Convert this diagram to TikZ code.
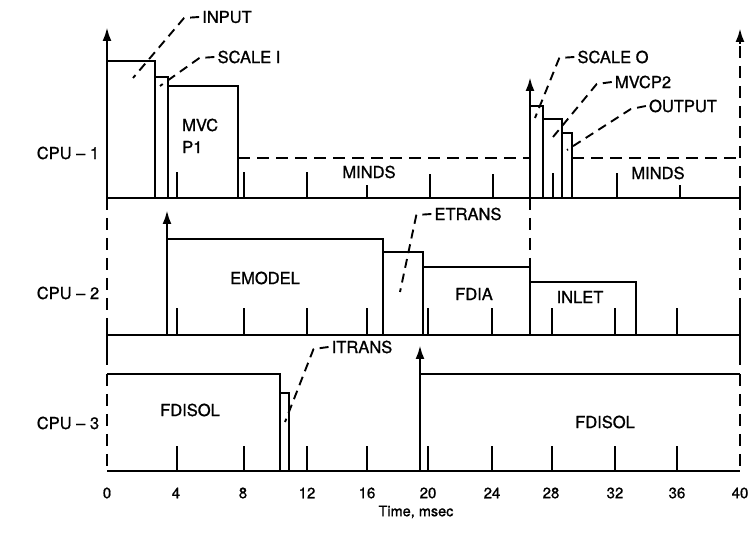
\documentclass[tikz,border=0pt]{standalone}
\usepackage{fontspec}
\setmainfont{TeX Gyre Heros}[BoldFont=TeX Gyre Heros, BoldFeatures={FakeBold=1.0}]
\usetikzlibrary{arrows.meta}
\begin{document}
\begin{tikzpicture}[x=1pt,y=-1pt,
  box/.style={line width=2.8pt, line join=miter},
  base/.style={line width=2.4pt},
  tick/.style={line width=2pt},
  dsh/.style={line width=2.3pt, dash pattern=on 12pt off 7pt},
  side/.style={line width=2.2pt, dash pattern=on 12pt off 8pt},
  lead/.style={line width=1.9pt, dash pattern=on 9pt off 6pt, line join=round},
  up/.style={line width=2.6pt, -{Latex[length=14pt,width=9pt]}},
  lbl/.style={font=\fontsize{16.5}{18}\selectfont\bfseries, inner sep=0pt},
  num/.style={font=\fontsize{15}{17}\selectfont\bfseries, inner sep=0pt},
]
\useasboundingbox (0,0) rectangle (756,534);

% ---------- CPU-1 ----------
\draw[base] (107,198) -- (740,198);
\draw[box] (107,198) -- (107,61) -- (155,61) -- (155,198);
\draw[box] (155,77) -- (168,77) -- (168,198);
\draw[box] (168,86) -- (238,86) -- (238,198);
\draw[up] (107,61) -- (107,27);
\draw[dsh] (238,158) -- (530,158);
\draw[box] (530,198) -- (530,106) -- (543,106) -- (543,198);
\draw[box] (543,119) -- (562,119) -- (562,198);
\draw[box] (562,133) -- (572,133) -- (572,198);
\draw[up] (530,106) -- (530,77);
\draw[dsh] (572,158) -- (740,158);
\draw[side] (740,198) -- (740,42);
\draw[up] (740,44) -- (740,28);
\foreach \x/\t in {177/172,244/172,307/172,367/185,430/174,493/174,553/173,617/173,680/185}
  \draw[tick] (\x,198) -- (\x,\t);

\node[lbl, anchor=west] (mvc) at (182,125) {MVC};
\node[lbl, anchor=west] (p1) at (182,147) {P1};
\node[lbl] (minds1) at (369,172) {MINDS};
\node[lbl] (minds2) at (658,173) {MINDS};

\node[lbl] (input) at (227,17) {INPUT};
\node[lbl] (scalei) at (249,57) {SCALE I};
\node[lbl] (scaleo) at (613,57) {SCALE O};
\node[lbl] (mvcp2) at (643,82) {MVCP2};
\node[lbl] (output) at (683,106) {OUTPUT};

\coordinate (inputE) at (133,78);
\coordinate (scaleiE) at (160,86);
\coordinate (scaleoE) at (535,118);
\coordinate (mvcp2E) at (553,137);
\coordinate (outputE) at (567,150);
\draw[lead] ([xshift=-3pt]input.west) -- ++(-15,1) -- (inputE);
\draw[lead] ([xshift=-3pt]scalei.west) -- ++(-15,1) -- (scaleiE);
\draw[lead] ([xshift=-3pt]scaleo.west) -- ++(-15,1) -- (scaleoE);
\draw[lead] ([xshift=-3pt]mvcp2.west) -- ++(-15,2) -- (mvcp2E);
\draw[lead] ([xshift=-3pt]output.west) -- ++(-15,3) -- (outputE);

% ---------- CPU-2 ----------
\draw[side] (107,198) -- (107,322);
\draw[base] (107,320) -- (107,365);
\draw[side] (740,198) -- (740,300);
\draw[base] (740,300) -- (740,365);
\draw[base] (107,335) -- (740,335);
\draw[box] (167,335) -- (167,239) -- (383,239) -- (383,335);
\draw[up] (167,239) -- (167,210);
\draw[box] (383,252) -- (423,252) -- (423,335);
\draw[box] (423,267) -- (530,267) -- (530,335);
\draw[box] (530,282) -- (636,282) -- (636,335);
\draw[side] (530,198) -- (530,267);
\foreach \x in {177,244,307,367,428,492,552,615,677}
  \draw[tick] (\x,335) -- (\x,308);

\node[lbl] (emodel) at (265,278) {EMODEL};
\node[lbl] (fdia) at (474,294) {FDIA};
\node[lbl] (inlet) at (580,297) {INLET};
\node[lbl] (etrans) at (468,214) {ETRANS};
\coordinate (etransE) at (400,292);
\draw[lead] ([xshift=-3pt]etrans.west) -- ++(-15,1) -- (etransE);

% ---------- CPU-3 ----------
\draw[side] (107,374) -- (107,471);
\draw[box] (107,374) -- (280,374) -- (280,471);
\draw[box] (280,393) -- (289,393) -- (289,471);
\draw[base] (107,471) -- (740,471);
\draw[base] (420,374) -- (740,374);
\draw[up] (420,471) -- (420,345);
\draw[side] (740,374) -- (740,471);
\foreach \x in {177,244,307,367,428,492,552,615,677}
  \draw[tick] (\x,471) -- (\x,446);

\node[lbl] (fdisol1) at (190,410) {FDISOL};
\node[lbl] (fdisol2) at (605,422) {FDISOL};
\node[lbl] (itrans) at (362,347) {ITRANS};
\coordinate (itransE) at (285,422);
\draw[lead] ([xshift=-3pt]itrans.west) -- ++(-15,2) -- (itransE);

% ---------- axis ----------
\foreach \x/\l in {107/0,176/4,243/8,307/12,367/16,428/20,492/24,551/28,615/32,677/36,740/40}
  \node[num] (t\l) at (\x,493) {\l};
\node[num, font=\fontsize{14.5}{16}\selectfont\bfseries] (time) at (416,512) {Time, msec};

\node[lbl] (cpu1) at (68,153) {CPU – 1};
\node[lbl] (cpu2) at (68,293) {CPU – 2};
\node[lbl] (cpu3) at (68,423) {CPU – 3};
\end{tikzpicture}
\end{document}
